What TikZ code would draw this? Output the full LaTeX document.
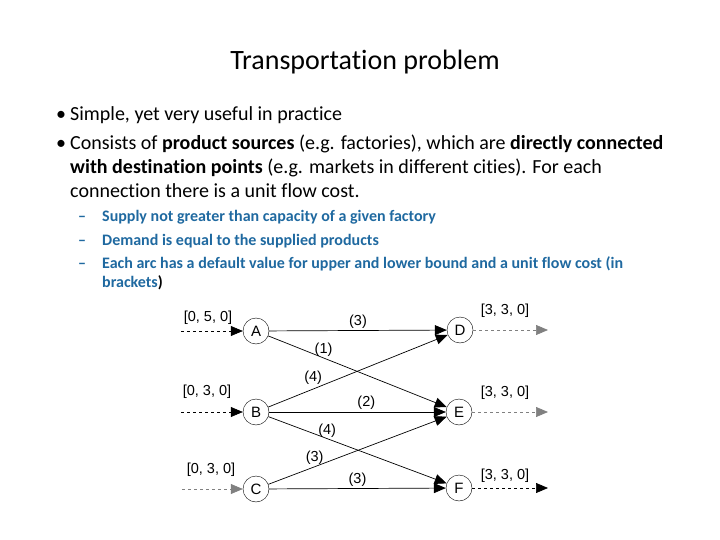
\documentclass[tikz,border=0pt]{standalone}
\usepackage{fontspec}
\setmainfont{Carlito}[Ligatures=NoCommon]
\newfontfamily\arialfont{Liberation Sans}
\usetikzlibrary{arrows.meta,positioning}
\definecolor{subblue}{RGB}{31,105,160}
\begin{document}
\begin{tikzpicture}[x=1pt,y=-1pt,>={Triangle[length=12pt,width=10pt]},
 txt/.style={anchor=base west,inner sep=0pt,font=\fontsize{20}{24}\selectfont},
 sub/.style={anchor=base west,inner sep=0pt,font=\fontsize{16}{19}\selectfont\bfseries,text=subblue},
 v/.style={draw,circle,minimum size=26pt,inner sep=0pt,font=\arialfont\fontsize{15}{17}\selectfont},
 lab/.style={font=\arialfont\fontsize{14.5}{17}\selectfont,inner sep=1pt},
 arc/.style={->,line width=0.7pt},
 io/.style={->,dashed,line width=0.7pt}]
\useasboundingbox (0,0) rectangle (720,540);
% title and bullets
\node[anchor=base,font=\fontsize{28}{32}\selectfont] (title) at (365,70) {Transportation problem};
\node[txt] (d1) at (56,121) {\textbullet};
\node[txt] (l1) at (70,121) {Simple, yet very useful in practice};
\node[txt] (d2) at (56,150) {\textbullet};
\node[txt] (l2) at (70,150) {Consists of \textbf{product sources} (e.g. factories), which are \textbf{directly connected}};
\node[txt] (l3) at (70,174) {\textbf{with destination points} (e.g. markets in different cities). For each};
\node[txt] (l4) at (70,197) {connection there is a unit flow cost.};
\node[sub] (s1d) at (78,222) {--};
\node[sub] (s1) at (102,222) {Supply not greater than capacity of a given factory};
\node[sub] (s2d) at (78,245) {--};
\node[sub] (s2) at (102,245) {Demand is equal to the supplied products};
\node[sub] (s3d) at (78,268) {--};
\node[sub] (s3) at (102,268) {Each arc has a default value for upper and lower bound and a unit flow cost (in};
\node[sub] (s4) at (102,287) {brackets\textcolor{black}{)}};
% network
\node[v] (A) at (256,331) {A};
\node[v] (B) at (256,412) {B};
\node[v] (C) at (256,489) {C};
\node[v] (D) at (460,330) {D};
\node[v] (E) at (459,412) {E};
\node[v] (F) at (459,488) {F};
\coordinate (inA) at (181,331);
\coordinate (inB) at (181,412);
\coordinate (inC) at (182,489);
\coordinate (outD) at (548,330);
\coordinate (outE) at (548,412);
\coordinate (outF) at (548,488);
\draw[io] (inA) -- (A);
\draw[io] (inB) -- (B);
\draw[io,gray] (inC) -- (C);
\draw[io,gray] (D) -- (outD);
\draw[io,gray] (E) -- (outE);
\draw[io] (F) -- (outF);
\node[lab] (qA) at (208,318) {[0, 5, 0]};
\node[lab] (qB) at (207,392) {[0, 3, 0]};
\node[lab] (qC) at (211,470) {[0, 3, 0]};
\node[lab] (qD) at (505,311) {[3, 3, 0]};
\node[lab] (qE) at (505,393) {[3, 3, 0]};
\node[lab] (qF) at (505,476) {[3, 3, 0]};
\draw[arc] (A) -- node[lab,above=1pt] {(3)} (D);
\draw[arc] (A) -- node[lab,pos=.31,above] {(1)} (E);
\draw[arc] (B) -- node[lab,pos=.25,above=3pt] {(4)} (D);
\draw[arc] (B) -- node[lab,pos=.55,above=1pt] {(2)} (E);
\draw[arc] (B) -- node[lab,pos=.33,above] {(4)} (F);
\draw[arc] (C) -- node[lab,pos=.26,above=1pt] {(3)} (E);
\draw[arc] (C) -- node[lab,above=1pt] {(3)} (F);
\end{tikzpicture}
\end{document}
